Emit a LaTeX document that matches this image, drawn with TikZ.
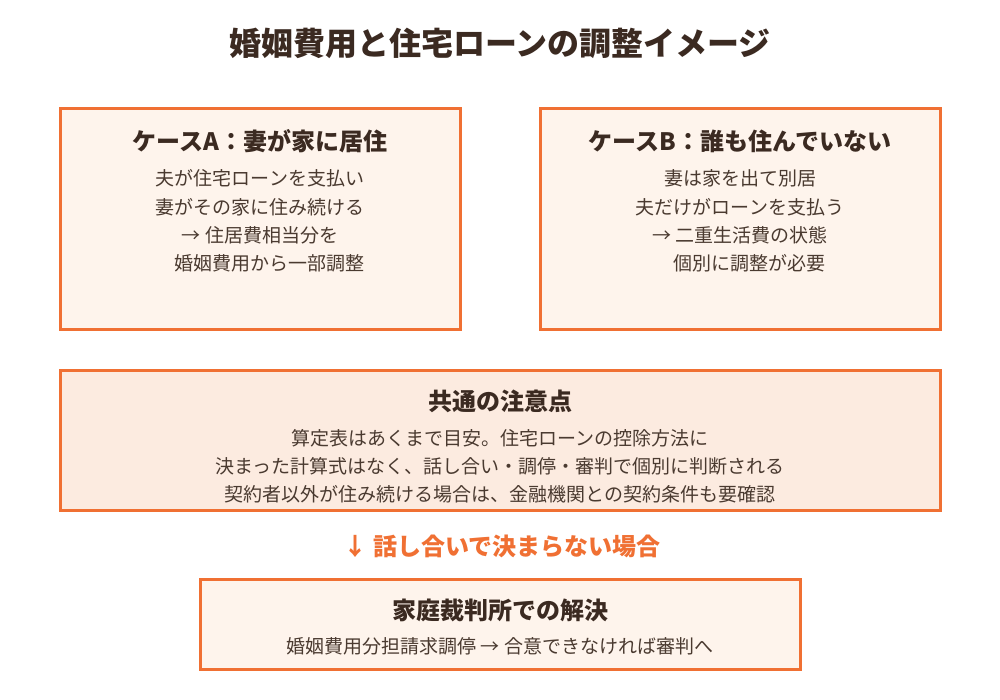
\documentclass[tikz,border=0pt]{standalone}
\usepackage{fontspec}
\setmainfont{Noto Sans CJK JP}
\definecolor{edge}{HTML}{F07033}
\definecolor{fillA}{HTML}{FEF4EC}
\definecolor{fillC}{HTML}{FCEBE0}
\definecolor{ink}{HTML}{3B2A21}
\definecolor{bodyink}{HTML}{4A3A30}
\tikzset{
  box/.style={draw=edge, line width=3pt, fill=fillA},
  boxc/.style={draw=edge, line width=3pt, fill=fillC},
  ttl/.style={anchor=base, inner sep=0pt, text=ink, font=\fontsize{32}{38}\selectfont\bfseries},
  head/.style={anchor=base, inner sep=0pt, text=ink, font=\fontsize{24}{30}\selectfont\bfseries},
  body/.style={anchor=base, inner sep=0pt, text=bodyink, font=\fontsize{19}{24}\selectfont},
  note/.style={anchor=base, inner sep=0pt, text=edge, font=\fontsize{24}{30}\selectfont\bfseries},
}
\begin{document}
\begin{tikzpicture}[x=1pt,y=-1pt]
\useasboundingbox (0,0) rectangle (1000,700);
\fill[white] (0,0) rectangle (1000,700);
% title
\node[ttl] (title) at (500,56) {婚姻費用と住宅ローンの調整イメージ};
% box A
\draw[box] (60,109) rectangle (460,329);
\node[head] (ha) at (260,150.5) {ケースA：妻が家に居住};
\node[body] (a1) at (260,186) {夫が住宅ローンを支払い};
\node[body] (a2) at (260,214.3) {妻がその家に住み続ける};
\node[body] (a3) at (260,242.6) {→ 住居費相当分を};
\node[body] (a4) at (260,271) {　婚姻費用から一部調整};
% box B
\draw[box] (540,109) rectangle (940,329);
\node[head] (hb) at (740,150.5) {ケースB：誰も住んでいない};
\node[body] (b1) at (740,186) {妻は家を出て別居};
\node[body] (b2) at (740,214.3) {夫だけがローンを支払う};
\node[body] (b3) at (740,242.6) {→ 二重生活費の状態};
\node[body] (b4) at (740,271) {　個別に調整が必要};
% common box
\draw[boxc] (60,370) rectangle (940,510);
\node[head] (hc) at (500,410) {共通の注意点};
\node[body] (c1) at (500,445) {算定表はあくまで目安。住宅ローンの控除方法に};
\node[body] (c2) at (500,473.3) {決まった計算式はなく、話し合い・調停・審判で個別に判断される};
\node[body] (c3) at (500,501.6) {契約者以外が住み続ける場合は、金融機関との契約条件も要確認};
% arrow note
\node[note] (nt) at (502,555) {↓ 話し合いで決まらない場合};
% court box
\draw[box] (200,579) rectangle (800,669);
\node[head] (hd) at (500,619) {家庭裁判所での解決};
\node[body] (d1) at (500,653) {婚姻費用分担請求調停 → 合意できなければ審判へ};
\end{tikzpicture}
\end{document}
